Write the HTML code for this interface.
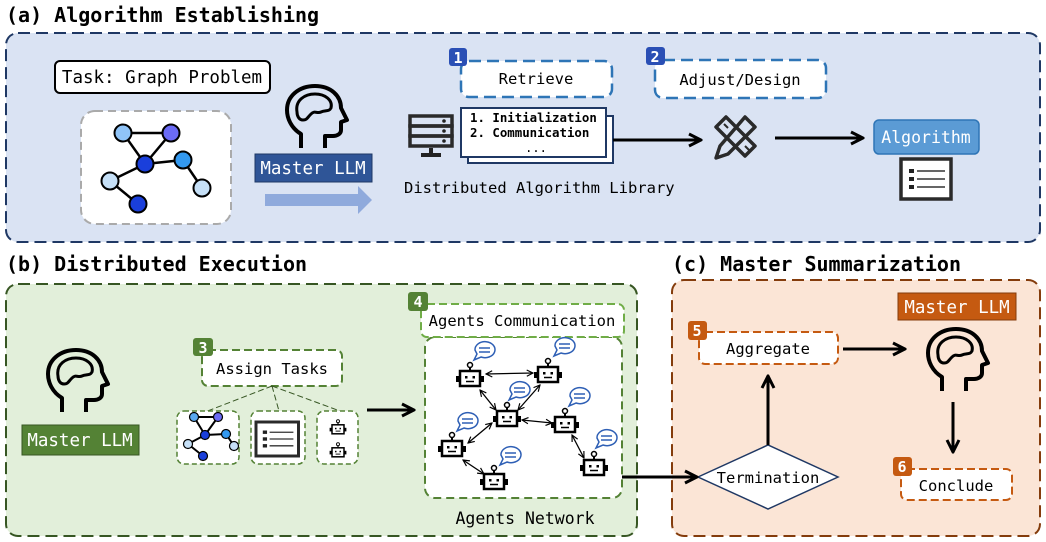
<!DOCTYPE html>
<html><head><meta charset="utf-8"><style>
html,body{margin:0;padding:0;background:#fff;}
svg{display:block;font-family:"DejaVu Sans Mono","Liberation Mono",monospace;}
</style></head><body>
<svg width="1046" height="542" viewBox="0 0 1046 542" xmlns="http://www.w3.org/2000/svg">
<defs>
<marker id="ar" viewBox="0 0 10 10" refX="9" refY="5" markerWidth="5" markerHeight="5" orient="auto"><path d="M1 1 L9 5 L1 9" fill="none" stroke="#000" stroke-width="2"/></marker>
<marker id="as" viewBox="0 0 10 10" refX="9" refY="5" markerWidth="6" markerHeight="6" orient="auto-start-reverse"><path d="M1 1 L9 5 L1 9" fill="none" stroke="#000" stroke-width="1.5"/></marker>
<g id="head" fill="none" stroke="#000" stroke-width="4" stroke-linejoin="round">
<path d="M16 64 V50 C6 44 2 34 2 26 C2 12 14 2 30 2 C46 2 56 12 56 24 L62 36 L56 38 V46 C56 50 52 52 48 52 H40 V64"/>
<path d="M12 28 C10 16 20 10 30 10 C40 10 48 16 46 24 C44 28 40 26 36 28 C32 30 30 26 26 30 C22 34 22 36 18 36 C14 36 12 32 12 28 Z" stroke-width="3"/>
</g>
<g id="robot">
<circle cx="0" cy="-13" r="2.5" fill="#fff" stroke="#000" stroke-width="1.5"/>
<line x1="0" y1="-10.5" x2="0" y2="-7" stroke="#000" stroke-width="2"/>
<rect x="-10" y="-7" width="20" height="15" fill="#fff" stroke="#000" stroke-width="2.5"/>
<rect x="-14" y="-2" width="4" height="6" fill="#000"/><rect x="10" y="-2" width="4" height="6" fill="#000"/>
<rect x="-5" y="-2" width="2.5" height="2.5" fill="#000"/><rect x="2.5" y="-2" width="2.5" height="2.5" fill="#000"/>
<line x1="-4" y1="3.5" x2="4" y2="3.5" stroke="#000" stroke-width="1.5"/>
</g>
<g id="bub">
<path d="M-10 0 A10 8 0 1 1 -4 7 L-11 10 L-8 4 Z" fill="#fff" stroke="#2e5fb5" stroke-width="1.5"/>
<line x1="-6" y1="-2" x2="5" y2="-2" stroke="#2e5fb5" stroke-width="1.5"/>
<line x1="-6" y1="2" x2="5" y2="2" stroke="#2e5fb5" stroke-width="1.5"/>
</g>
<g id="list">
<rect x="0" y="0" width="50" height="40" fill="#fff" stroke="#2a2a2a" stroke-width="3.5"/>
<rect x="8" y="10" width="5" height="4" fill="#222"/><rect x="8" y="18" width="5" height="4" fill="#222"/><rect x="8" y="26" width="5" height="4" fill="#222"/>
<line x1="16" y1="12" x2="44" y2="12" stroke="#333" stroke-width="1.5"/><line x1="16" y1="20" x2="44" y2="20" stroke="#333" stroke-width="1.5"/><line x1="16" y1="28" x2="44" y2="28" stroke="#333" stroke-width="1.5"/>
</g>
</defs>

<!-- (a) -->
<text x="6" y="22" font-size="20" font-weight="bold">(a) Algorithm Establishing</text>
<rect x="6" y="33" width="1034" height="209" rx="12" fill="#dae3f3" stroke="#1f3864" stroke-width="2" stroke-dasharray="12 6"/>
<rect x="55" y="61" width="215" height="32" rx="5" fill="#fff" stroke="#000" stroke-width="2"/>
<text x="162" y="83" font-size="17.5" text-anchor="middle">Task: Graph Problem</text>
<rect x="81" y="111" width="150" height="113" rx="14" fill="#fff" stroke="#aaa" stroke-width="2" stroke-dasharray="8 5"/>
<g stroke="#000" stroke-width="2.5">
<line x1="123" y1="133" x2="171" y2="133"/><line x1="123" y1="133" x2="145" y2="164"/><line x1="171" y1="133" x2="145" y2="164"/>
<line x1="145" y1="164" x2="183" y2="160"/><line x1="145" y1="164" x2="110" y2="181"/><line x1="183" y1="160" x2="202" y2="188"/><line x1="110" y1="181" x2="138" y2="204"/>
</g>
<g stroke="#000" stroke-width="2">
<circle cx="123" cy="133" r="8.5" fill="#90c4f8"/><circle cx="171" cy="133" r="8.5" fill="#6b6bf5"/><circle cx="145" cy="164" r="8.5" fill="#1a3fdb"/>
<circle cx="183" cy="160" r="8.5" fill="#3399f0"/><circle cx="110" cy="181" r="8.5" fill="#c6e0f7"/><circle cx="202" cy="188" r="8.5" fill="#c6e0f7"/><circle cx="138" cy="204" r="8.5" fill="#1a3fdb"/>
</g>
<use href="#head" x="285" y="84"/>
<rect x="255" y="154" width="117" height="28" fill="#2f5597" stroke="#1f3864"/>
<text x="313" y="174" font-size="17.5" fill="#fff" text-anchor="middle">Master LLM</text>
<path d="M265 194 H358 V186 L372 200 L358 214 V206 H265 Z" fill="#8faadc"/>
<g fill="none" stroke="#2a2a2a" stroke-width="3.5">
<rect x="410" y="116" width="42" height="10"/><rect x="410" y="126" width="42" height="10"/><rect x="410" y="136" width="42" height="10"/>
</g>
<circle cx="444" cy="121" r="1.8" fill="#222"/><circle cx="444" cy="131" r="1.8" fill="#222"/><circle cx="444" cy="141" r="1.8" fill="#222"/>
<rect x="429" y="148" width="4" height="6" fill="#222"/><rect x="421" y="153" width="20" height="4" fill="#222"/>
<rect x="468" y="116" width="145" height="47" fill="#fff" stroke="#1f3864" stroke-width="2"/>
<rect x="461" y="108" width="145" height="49" fill="#fff" stroke="#1f3864" stroke-width="2"/>
<text x="470" y="122" font-size="12.4" font-weight="bold">1. Initialization</text>
<text x="470" y="137" font-size="12.4" font-weight="bold">2. Communication</text>
<text x="536" y="152" font-size="12" text-anchor="middle">...</text>
<text x="404" y="193" font-size="15.5">Distributed Algorithm Library</text>
<rect x="461" y="61" width="151" height="36" rx="8" fill="#fff" stroke="#2e75b6" stroke-width="2.5" stroke-dasharray="12 6"/>
<text x="536" y="84" font-size="15.5" text-anchor="middle">Retrieve</text>
<rect x="449" y="48" width="18" height="18" rx="3" fill="#2a4fb5"/><text x="458" y="63" font-size="15" font-weight="bold" fill="#fff" text-anchor="middle">1</text>
<rect x="655" y="60" width="171" height="38" rx="8" fill="#fff" stroke="#2e75b6" stroke-width="2.5" stroke-dasharray="12 6"/>
<text x="740" y="85" font-size="15.5" text-anchor="middle">Adjust/Design</text>
<rect x="646" y="47" width="19" height="18" rx="3" fill="#2a4fb5"/><text x="655" y="62" font-size="15" font-weight="bold" fill="#fff" text-anchor="middle">2</text>
<line x1="613" y1="140" x2="701" y2="140" stroke="#000" stroke-width="3" marker-end="url(#ar)"/>
<!-- tools: ruler + pencil -->
<g fill="none" stroke="#2a2a2a" stroke-width="3.5" stroke-linejoin="round">
<path d="M716 127 L726 117 L755 146 L745 156 Z"/>
<path d="M745 117 L755 127 L728 154 L716 158 L720 146 Z"/>
</g>
<g stroke="#2a2a2a" stroke-width="2">
<line x1="724" y1="124" x2="728" y2="128"/><line x1="745" y1="146" x2="749" y2="150"/>
</g>
<line x1="775" y1="138" x2="863" y2="138" stroke="#000" stroke-width="3" marker-end="url(#ar)"/>
<rect x="874" y="120" width="105" height="34" rx="5" fill="#5b9bd5" stroke="#2e75b6" stroke-width="1.5"/>
<text x="926" y="143" font-size="16.5" fill="#fff" text-anchor="middle">Algorithm</text>
<use href="#list" x="901" y="159"/>

<!-- (b) -->
<text x="6" y="271" font-size="20" font-weight="bold">(b) Distributed Execution</text>
<rect x="6" y="284" width="631" height="252" rx="12" fill="#e2efda" stroke="#375623" stroke-width="2" stroke-dasharray="12 6"/>
<use href="#head" x="46" y="348"/>
<rect x="22" y="425" width="117" height="30" fill="#548235" stroke="#375623"/>
<text x="80" y="446" font-size="17.5" fill="#fff" text-anchor="middle">Master LLM</text>
<rect x="202" y="350" width="140" height="36" rx="6" fill="#fff" stroke="#548235" stroke-width="2" stroke-dasharray="8 4"/>
<text x="272" y="374" font-size="15.5" text-anchor="middle">Assign Tasks</text>
<rect x="193" y="338" width="20" height="18" rx="3" fill="#548235"/><text x="203" y="353" font-size="15" font-weight="bold" fill="#fff" text-anchor="middle">3</text>
<g stroke="#375623" stroke-width="1" stroke-dasharray="6 3">
<line x1="272" y1="386" x2="205" y2="412"/><line x1="272" y1="386" x2="279" y2="411"/><line x1="272" y1="386" x2="340" y2="411"/>
</g>
<g fill="#fff" stroke="#548235" stroke-width="1.5" stroke-dasharray="5 3">
<rect x="177" y="411" width="62" height="53" rx="7"/><rect x="251" y="411" width="54" height="53" rx="7"/><rect x="317" y="411" width="41" height="53" rx="7"/>
</g>
<g stroke="#000" stroke-width="2">
<line x1="194" y1="417" x2="218" y2="417"/><line x1="194" y1="417" x2="205" y2="435"/><line x1="218" y1="417" x2="205" y2="435"/>
<line x1="205" y1="435" x2="226" y2="434"/><line x1="205" y1="435" x2="188" y2="444"/><line x1="226" y1="434" x2="234" y2="446"/><line x1="188" y1="444" x2="203" y2="456"/>
</g>
<g stroke="#000" stroke-width="1.2">
<circle cx="194" cy="417" r="4.5" fill="#5aa8f0"/><circle cx="218" cy="417" r="4.5" fill="#6b6bf5"/><circle cx="205" cy="435" r="4.5" fill="#1a3fdb"/>
<circle cx="226" cy="434" r="4.5" fill="#3399f0"/><circle cx="188" cy="444" r="4.5" fill="#c6e0f7"/><circle cx="234" cy="446" r="4.5" fill="#c6e0f7"/><circle cx="203" cy="456" r="4.5" fill="#1a3fdb"/>
</g>
<g transform="translate(256,422) scale(0.85)"><use href="#list"/></g>
<g transform="translate(338,429) scale(0.6)"><use href="#robot"/></g>
<g transform="translate(338,452) scale(0.6)"><use href="#robot"/></g>
<line x1="367" y1="410" x2="414" y2="410" stroke="#000" stroke-width="3" marker-end="url(#ar)"/>
<rect x="425" y="337" width="197" height="161" rx="10" fill="#fff" stroke="#548235" stroke-width="2" stroke-dasharray="8 5"/>
<rect x="421" y="304" width="203" height="33" rx="6" fill="#fff" stroke="#70ad47" stroke-width="2" stroke-dasharray="8 4"/>
<text x="522" y="326" font-size="15.5" text-anchor="middle">Agents Communication</text>
<rect x="408" y="292" width="20" height="19" rx="3" fill="#548235"/><text x="418" y="307" font-size="15" font-weight="bold" fill="#fff" text-anchor="middle">4</text>
<g stroke="#000" stroke-width="1.3" marker-start="url(#as)" marker-end="url(#as)">
<line x1="486" y1="374" x2="533" y2="373"/>
<line x1="480" y1="390" x2="496" y2="410"/>
<line x1="540" y1="385" x2="518" y2="410"/>
<line x1="522" y1="420" x2="552" y2="423"/>
<line x1="492" y1="423" x2="468" y2="443"/>
<line x1="463" y1="460" x2="484" y2="474"/>
<line x1="572" y1="435" x2="584" y2="458"/>
</g>
<use href="#robot" x="470" y="378"/><use href="#robot" x="548" y="374"/><use href="#robot" x="507" y="418"/>
<use href="#robot" x="565" y="424"/><use href="#robot" x="452" y="448"/><use href="#robot" x="494" y="481"/><use href="#robot" x="594" y="467"/>
<use href="#bub" x="485" y="350"/><use href="#bub" x="565" y="346"/><use href="#bub" x="520" y="390"/>
<use href="#bub" x="580" y="396"/><use href="#bub" x="468" y="421"/><use href="#bub" x="511" y="455"/><use href="#bub" x="607" y="438"/>
<text x="525" y="524" font-size="16.5" text-anchor="middle">Agents Network</text>

<!-- (c) -->
<text x="672" y="271" font-size="20" font-weight="bold">(c) Master Summarization</text>
<rect x="672" y="280" width="368" height="256" rx="12" fill="#fbe5d6" stroke="#843c0c" stroke-width="2" stroke-dasharray="12 6"/>
<rect x="898" y="293" width="118" height="27" fill="#c55a11" stroke="#843c0c"/>
<text x="957" y="313" font-size="17.5" fill="#fff" text-anchor="middle">Master LLM</text>
<use href="#head" x="926" y="327"/>
<rect x="699" y="332" width="139" height="32" rx="6" fill="#fff" stroke="#c55a11" stroke-width="2" stroke-dasharray="8 4"/>
<text x="768" y="354" font-size="15.5" text-anchor="middle">Aggregate</text>
<rect x="688" y="321" width="19" height="19" rx="3" fill="#c55a11"/><text x="697" y="336" font-size="15" font-weight="bold" fill="#fff" text-anchor="middle">5</text>
<line x1="843" y1="349" x2="905" y2="349" stroke="#000" stroke-width="3" marker-end="url(#ar)"/>
<line x1="953" y1="402" x2="953" y2="452" stroke="#000" stroke-width="3" marker-end="url(#ar)"/>
<rect x="901" y="469" width="111" height="31" rx="6" fill="#fff" stroke="#c55a11" stroke-width="2" stroke-dasharray="8 4"/>
<text x="956" y="491" font-size="15.5" text-anchor="middle">Conclude</text>
<rect x="893" y="457" width="19" height="19" rx="3" fill="#c55a11"/><text x="902" y="472" font-size="15" font-weight="bold" fill="#fff" text-anchor="middle">6</text>
<polygon points="698,477 768,445 838,477 768,509" fill="#fff" stroke="#1f3864" stroke-width="1.5"/>
<text x="768" y="483" font-size="15.5" text-anchor="middle">Termination</text>
<line x1="768" y1="445" x2="768" y2="376" stroke="#000" stroke-width="3" marker-end="url(#ar)"/>
<line x1="622" y1="477" x2="697" y2="477" stroke="#000" stroke-width="3" marker-end="url(#ar)"/>
</svg>
</body></html>
